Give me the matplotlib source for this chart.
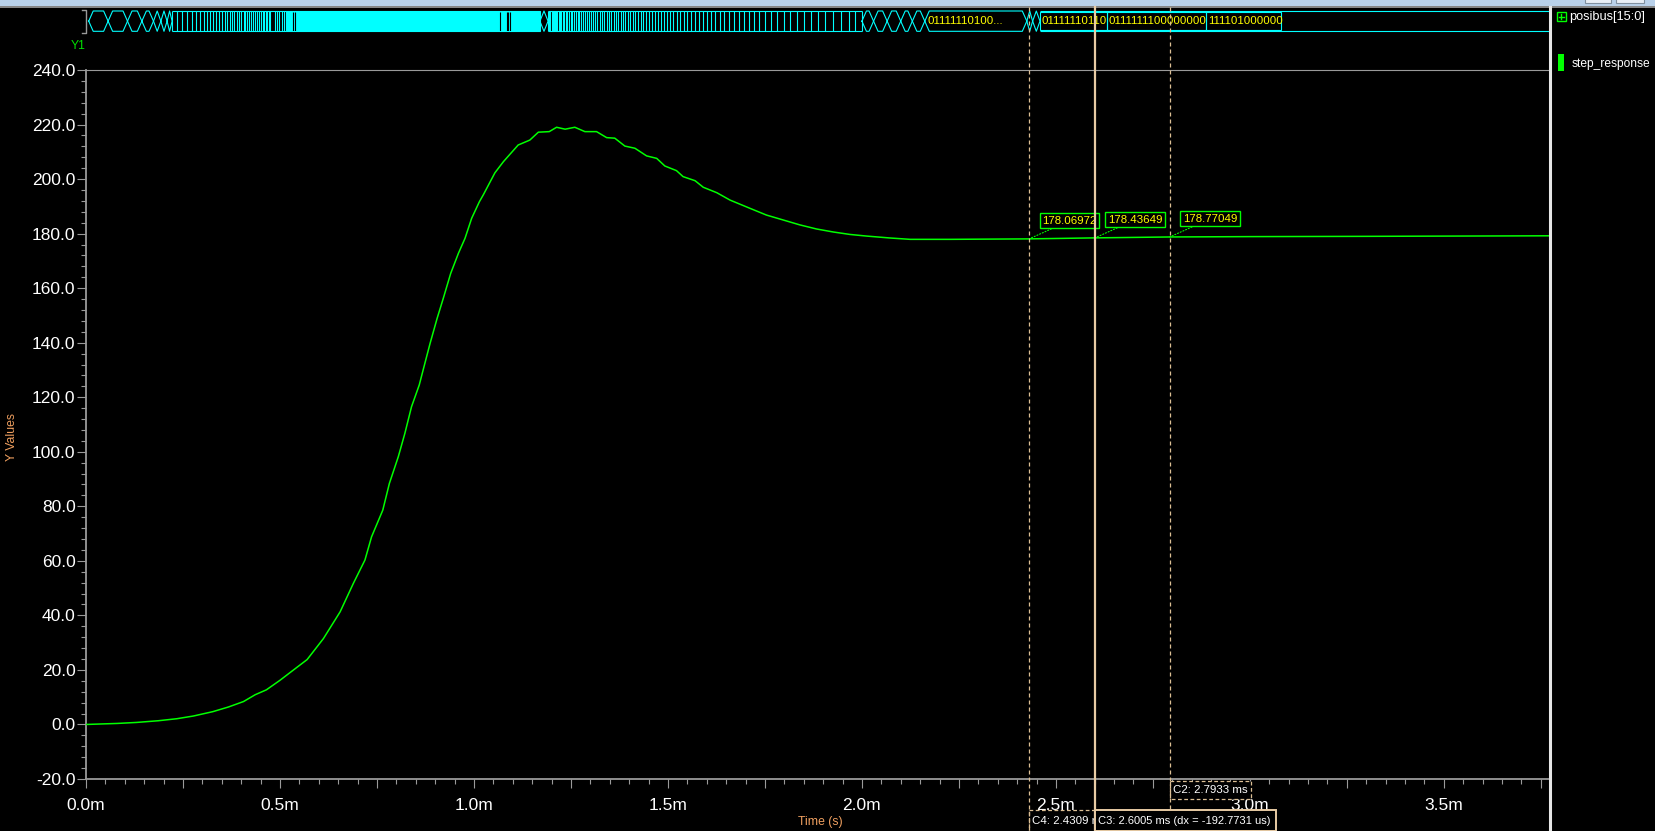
import matplotlib
matplotlib.use('Agg')
import matplotlib.pyplot as plt
import matplotlib.transforms as mtransforms
from matplotlib.patches import Rectangle
from matplotlib.ticker import MultipleLocator, FuncFormatter
from matplotlib import font_manager as fm

# ---------------- data ----------------
time_ms = [0, 0.08, 0.13, 0.186, 0.234, 0.277, 0.327, 0.367, 0.406, 0.436, 0.465, 0.5,
           0.534, 0.57, 0.612, 0.655, 0.689, 0.719, 0.736, 0.765, 0.782, 0.805, 0.822,
           0.839, 0.859, 0.869, 0.887, 0.905, 0.921, 0.94, 0.96, 0.977, 0.994, 1.014,
           1.024, 1.054, 1.076, 1.114, 1.144, 1.166, 1.194, 1.213, 1.235, 1.26, 1.286,
           1.316, 1.342, 1.363, 1.389, 1.415, 1.445, 1.471, 1.492, 1.522, 1.539, 1.57,
           1.591, 1.626, 1.66, 1.711, 1.754, 1.797, 1.84, 1.883, 1.926, 1.969, 2.012,
           2.072, 2.124, 2.227, 2.4309, 2.6005, 2.7933, 3.0, 3.3, 3.771]
step_response = [0, 0.37, 0.74, 1.36, 2.1, 3.1, 4.7, 6.4, 8.4, 10.9, 12.7, 16.2,
                 19.9, 23.8, 31.5, 41.3, 51.7, 60.3, 68.8, 78.6, 88.4, 98.2, 106.8,
                 116.5, 124.5, 130.0, 139.8, 148.9, 156.3, 165.4, 172.8, 178.3, 185.6, 191.7,
                 194.2, 202.3, 206.4, 212.5, 214.3, 217.2, 217.4, 219.0, 218.3, 219.0, 217.4,
                 217.4, 215.2, 215.0, 212.1, 211.3, 208.5, 207.6, 204.8, 203.1, 200.9, 199.4,
                 197.0, 195.0, 192.3, 189.3, 186.8, 185.0, 183.2, 181.7, 180.6, 179.7, 179.1,
                 178.4, 177.9, 177.9, 178.06972, 178.43649, 178.77049, 178.9, 179.0, 179.2]

y_ticks = [-20, 0, 20, 40, 60, 80, 100, 120, 140, 160, 180, 200, 220, 240]
x_label_ticks = [0.0, 0.5, 1.0, 1.5, 2.0, 2.5, 3.0, 3.5]

cursor_names = ['C4', 'C3', 'C2']
cursor_times = [2.4309, 2.6005, 2.7933]
cursor_values = [178.06972, 178.43649, 178.77049]
cursor_dx_us = -192.7731

# posibus[15:0] bus waveform (transition times in ms)
bus_hex_a = [0.007, 0.057, 0.107, 0.144, 0.174, 0.193, 0.209, 0.222]
bus_dense_a = [0.222, 0.235, 0.248, 0.260, 0.272, 0.283, 0.293, 0.303, 0.312, 0.320,
               0.328, 0.336, 0.344, 0.350, 0.357, 0.364, 0.370, 0.376, 0.382, 0.388,
               0.394, 0.400, 0.406, 0.411, 0.415, 0.420, 0.425, 0.430, 0.435, 0.440,
               0.445, 0.450, 0.455, 0.459, 0.463, 0.467, 0.471, 0.475, 0.488, 0.492,
               0.498, 0.504, 0.510, 0.516]
bus_solid = [0.516, 1.170]
bus_solid_gaps = [0.534, 0.540, 1.066, 1.086, 1.089, 1.094]
bus_hex_b = [1.170, 1.191]
bus_dense_b = [1.191, 1.194, 1.197, 1.200, 1.203, 1.206, 1.209, 1.212, 1.215, 1.218,
               1.221, 1.225, 1.229, 1.233, 1.237, 1.241, 1.245, 1.249, 1.253, 1.257,
               1.262, 1.267, 1.272, 1.277, 1.282, 1.287, 1.292, 1.297, 1.302, 1.307,
               1.312, 1.318, 1.324, 1.330, 1.336, 1.342, 1.348, 1.354, 1.360, 1.366,
               1.372, 1.378, 1.384, 1.390, 1.396, 1.402, 1.409, 1.416, 1.423, 1.430,
               1.437, 1.444, 1.451, 1.458, 1.466, 1.474, 1.482, 1.490, 1.498, 1.506,
               1.514, 1.523, 1.532, 1.541, 1.550, 1.560, 1.570, 1.580, 1.590, 1.600,
               1.611, 1.622, 1.633, 1.645, 1.657, 1.669, 1.682, 1.695, 1.708, 1.722,
               1.736, 1.750, 1.766, 1.782, 1.798, 1.815, 1.832, 1.850, 1.868, 1.887,
               1.906, 1.926, 1.946, 1.966, 1.983, 2.0]
bus_hex_c = [2.0, 2.03, 2.065, 2.10, 2.13, 2.162]
bus_label_hex = [2.162, 2.425]
bus_label_hex_text = '01111110100...'
bus_hex_d = [2.425, 2.440]
bus_box_edges = [2.459, 2.631, 2.887, 3.080]
bus_box_labels = ['01111110110', '0111111100000000', '111101000000']

X_MAX = 3.771
Y_MIN, Y_MAX = -20, 240

# ---------------- fonts ----------------
def has_font(name):
    try:
        fm.findfont(fm.FontProperties(family=name), fallback_to_default=False)
        return True
    except Exception:
        return False

REG = 'Liberation Sans' if has_font('Liberation Sans') else 'DejaVu Sans'
NARROW, NSCALE = REG, 0.9
for nm, sc in [('Liberation Sans Narrow', 1.0), ('DejaVu Sans Condensed', 0.86)]:
    if has_font(nm):
        NARROW, NSCALE = nm, sc
        break
NS = 9.2 * NSCALE

plt.rcParams['font.family'] = [REG, 'DejaVu Sans']

W, H = 1656, 831
GREEN = '#00ff00'
CYAN = '#00ffff'
YELLOW = '#ffff00'
GRAY = '#9a9a9a'
ORANGE = '#f0a060'
TAN = '#dcbf94'
TAN_SOLID = '#e8cba4'

fig = plt.figure(figsize=(W / 100, H / 100), dpi=100, facecolor='black')

def fx(x):
    return x / W

def fy(y):
    return 1 - y / H

L, R, T, B = 86, 1549, 70, 779
ax = fig.add_axes([fx(L), fy(B), (R - L) / W, (B - T) / H])
ax.set_facecolor('black')
ax.plot(time_ms, step_response, color=GREEN, lw=1.1, zorder=3)
ax.set_xlim(0, X_MAX)
ax.set_ylim(Y_MIN, Y_MAX)

for s in ['left', 'bottom']:
    ax.spines[s].set_color(GRAY)
    ax.spines[s].set_linewidth(1.3)
ax.spines['top'].set_color(GRAY)
ax.spines['top'].set_linewidth(0.8)
ax.spines['right'].set_visible(False)

ax.set_yticks(y_ticks)
ax.yaxis.set_minor_locator(MultipleLocator(4))
ax.yaxis.set_major_formatter(FuncFormatter(lambda v, p: f'{v:.1f}'))
ax.xaxis.set_major_locator(MultipleLocator(0.25))
ax.xaxis.set_minor_locator(MultipleLocator(0.05))

def xfmt(v, p):
    for t in x_label_ticks:
        if abs(v - t) < 1e-6:
            return f'{t:.1f}m'
    return ''

ax.xaxis.set_major_formatter(FuncFormatter(xfmt))
ax.tick_params(axis='both', which='major', direction='out', length=6.5, width=0.8,
               color=GRAY, labelcolor='white', labelsize=12.5)
ax.tick_params(axis='both', which='minor', direction='out', length=3.3, width=0.8, color=GRAY)
ax.tick_params(axis='y', which='major', pad=1)
ax.tick_params(axis='x', which='major', pad=7)

# annotation boxes for cursor values
for t, v in zip(cursor_times, cursor_values):
    ax.annotate(f'{v:.5f}', xy=(t, v), xytext=(13, 13), textcoords='offset pixels',
                ha='left', va='bottom', color=YELLOW, fontsize=NS, family=NARROW,
                bbox=dict(boxstyle='square,pad=0.22', fc='black', ec=GREEN, lw=1.0),
                arrowprops=dict(arrowstyle='-', color=GREEN, lw=0.8, linestyle=':',
                                shrinkA=0, shrinkB=0),
                zorder=6)

# ---------------- bus waveform ----------------
ax_bus = fig.add_axes([fx(L), fy(31.3), (R - L) / W, (31.3 - 11) / H])
ax_bus.set_xlim(0, X_MAX)
ax_bus.set_ylim(0, 1)
ax_bus.axis('off')
ax_bus.patch.set_alpha(0)
PPM = (R - L) / X_MAX
BLW = 0.8

def hexagon(a, b, d=4.5 / PPM):
    d = min(d, (b - a) / 2)
    xs = [a, a + d, b - d, b, b - d, a + d, a]
    ys = [0.5, 1, 1, 0.5, 0, 0, 0.5]
    ax_bus.plot(xs, ys, color=CYAN, lw=BLW, clip_on=False)

for a, b in zip(bus_hex_a[:-1], bus_hex_a[1:]):
    hexagon(a, b)

ax_bus.hlines([0, 1], bus_dense_a[0], bus_dense_a[-1], color=CYAN, lw=BLW, clip_on=False)
ax_bus.vlines(bus_dense_a, 0, 1, color=CYAN, lw=BLW, clip_on=False)

ax_bus.add_patch(Rectangle((bus_solid[0], 0), bus_solid[1] - bus_solid[0], 1,
                           fc=CYAN, ec=CYAN, lw=BLW, clip_on=False))
ax_bus.vlines(bus_solid_gaps, 0.03, 0.97, color='black', lw=0.8)

hexagon(bus_hex_b[0], bus_hex_b[1])

ax_bus.hlines([0, 1], bus_dense_b[0], bus_dense_b[-1], color=CYAN, lw=BLW, clip_on=False)
ax_bus.vlines(bus_dense_b, 0, 1, color=CYAN, lw=BLW, clip_on=False)

for a, b in zip(bus_hex_c[:-1], bus_hex_c[1:]):
    hexagon(a, b)

hexagon(bus_label_hex[0], bus_label_hex[1])
ax_bus.text(bus_label_hex[0] + 3 / PPM, 0.5, bus_label_hex_text, color=YELLOW,
            fontsize=NS, family=NARROW, ha='left', va='center')

hexagon(bus_hex_d[0], bus_hex_d[1])
hexagon(bus_hex_d[1], bus_box_edges[0])
ax_bus.hlines([0, 1], bus_box_edges[0], X_MAX, color=CYAN, lw=BLW, clip_on=False)
for a, b, lab in zip(bus_box_edges[:-1], bus_box_edges[1:], bus_box_labels):
    rect = Rectangle((a, 0.06), b - a, 0.88, fc='none', ec=CYAN, lw=BLW)
    ax_bus.add_patch(rect)
    txt = ax_bus.text(a + 2 / PPM, 0.5, lab, color=YELLOW, fontsize=NS, family=NARROW,
                      ha='left', va='center')
    txt.set_clip_path(rect)

# ---------------- overlay (pixel coordinates) ----------------
ov = fig.add_axes([0, 0, 1, 1], zorder=10)
ov.set_xlim(0, W)
ov.set_ylim(H, 0)
ov.axis('off')
ov.patch.set_alpha(0)
trans = mtransforms.blended_transform_factory(ax.transData, ov.transData)

# title strip
ov.add_patch(Rectangle((0, 0), W, 6, fc='#b9d1ea', ec='none'))
ov.plot([0, W], [6.5, 6.5], color='#a0a0a0', lw=1.2)
ov.add_patch(Rectangle((1585, -2), 26, 5, fc='#e8eef5', ec='#8090a0', lw=0.8))
ov.add_patch(Rectangle((1616, -2), 28, 5, fc='#e8eef5', ec='#8090a0', lw=0.8))

# bus bracket
ov.plot([82, 86, 86, 82], [10, 10, 33, 33], color=GRAY, lw=1.0)

# right panel border
ov.plot([1550.5, 1550.5], [7, H], color='#e6e6e6', lw=2.2)

# legend panel
ov.add_patch(Rectangle((1557, 12), 9, 9, fc='none', ec=GREEN, lw=1.0))
ov.plot([1559, 1564], [16.5, 16.5], color=GREEN, lw=1.0)
ov.plot([1561.5, 1561.5], [14, 19], color=GREEN, lw=1.0)
ov.text(1569, 17, 'posibus[15:0]', color='white', fontsize=10.2 * NSCALE, family=NARROW,
        ha='left', va='center')
ov.add_patch(Rectangle((1558, 53.5), 6.5, 17.5, fc=GREEN, ec='none'))
ov.text(1571.5, 64, 'step_response', color='white', fontsize=9.6 * NSCALE, family=NARROW,
        ha='left', va='center')

# labels
ov.text(78, 46, 'Y1', color='#00e000', fontsize=9.8 * NSCALE, family=NARROW,
        ha='center', va='center')
ov.text(12, 437, 'Y Values', color=ORANGE, fontsize=9.8 * NSCALE, family=NARROW,
        rotation=90, ha='center', va='center')
ov.text(820, 822, 'Time (s)', color=ORANGE, fontsize=9.8 * NSCALE, family=NARROW,
        ha='center', va='center')

# cursor lines
tC4, tC3, tC2 = cursor_times
ov.plot([tC4, tC4], [7, H], transform=trans, color=TAN, lw=0.9, dashes=(3.2, 2.4))
ov.plot([tC2, tC2], [7, H], transform=trans, color=TAN, lw=0.9, dashes=(3.2, 2.4))
ov.plot([tC3, tC3], [7, H], transform=trans, color=TAN_SOLID, lw=1.6)

# cursor readout boxes at bottom
ov.add_patch(Rectangle((tC2, 780.5), 81 / PPM, 18.5, transform=trans, fc='black',
                       ec=TAN, lw=0.9, linestyle=(0, (3, 2))))
ov.text(tC2 + 3 / PPM, 790, f'{cursor_names[2]}: {tC2:.4f} ms', transform=trans,
        color='white', fontsize=NS, family=NARROW, ha='left', va='center')

c4_rect = Rectangle((tC4, 809.5), (tC3 - tC4), 24, transform=trans, fc='black',
                    ec=TAN, lw=0.9, linestyle=(0, (3, 2)))
ov.add_patch(c4_rect)
c4_txt = ov.text(tC4 + 3 / PPM, 820.5, f'{cursor_names[0]}: {tC4:.4f} ms', transform=trans,
                 color='white', fontsize=NS, family=NARROW, ha='left', va='center')
c4_txt.set_clip_path(c4_rect)

ov.add_patch(Rectangle((tC3, 809.5), 181 / PPM, 21, transform=trans, fc='black',
                       ec=TAN_SOLID, lw=1.4, zorder=4))
ov.text(tC3 + 3 / PPM, 820.5,
        f'{cursor_names[1]}: {tC3:.4f} ms (dx = {cursor_dx_us:.4f} us)', transform=trans,
        color='white', fontsize=NS * 0.97, family=NARROW, ha='left', va='center', zorder=5)

fig.savefig('out.png', dpi=100, facecolor='black')
